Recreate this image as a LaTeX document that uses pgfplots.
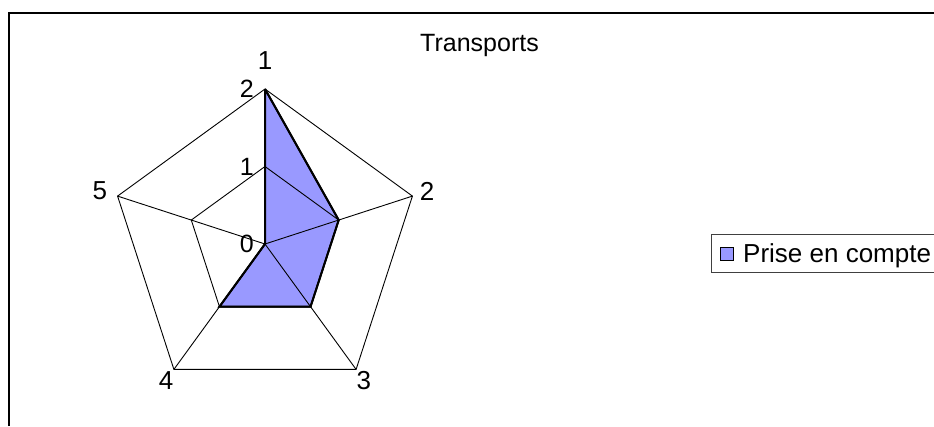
\documentclass[border=0pt]{standalone}
\usepackage{pgfplots}
\pgfplotsset{compat=1.18}
\usepgfplotslibrary{polar}
\usepackage{fontspec}
\setmainfont{Liberation Sans}
\definecolor{pfill}{HTML}{9999FF}
\newcommand{\lab}{\fontsize{26pt}{30pt}\selectfont}
\newcommand{\tck}{\fontsize{25pt}{29pt}\selectfont}
\begin{document}
\begin{tikzpicture}
\path[use as bounding box] (0,0) rectangle (934pt,426pt);
\clip (0,0) rectangle (934pt,426pt);
\fill[white] (0,0) rectangle (934pt,426pt);
\draw[line width=1.2pt] (9pt,0pt) -- (9pt,413pt) -- (934pt,413pt);
\node[anchor=base] at (479.5pt,374.3pt) {\fontsize{25pt}{29pt}\selectfont Transports};
\begin{polaraxis}[
  hide axis,
  scale only axis,
  width=310pt, height=310pt,
  xmin=0, xmax=360, ymin=0, ymax=2,
  clip=false,
  at={(265pt,182pt)}, anchor=center,
  legend style={at={(1.9387,0.4687)}, anchor=west, draw=black!75, line width=0.8pt,
    font=\fontsize{26pt}{30pt}\selectfont, inner xsep=9pt, inner ysep=7pt,
    /tikz/every odd column/.append style={column sep=7pt}},
  legend image code/.code={\draw[#1,line width=0.8pt] (0pt,-6.5pt) rectangle (13pt,6.5pt);},
]
% series fill (with legend)
\addplot[fill=pfill, draw=black, line width=1.8pt] coordinates {
  (90,2) (18,1) (306,1) (234,1) (162,0) (90,2)};
\addlegendentry{Prise en compte}
% grid pentagons
\addplot[black, line width=0.9pt, forget plot] coordinates {
  (90,2) (18,2) (306,2) (234,2) (162,2) (90,2)};
\addplot[black, line width=0.9pt, forget plot] coordinates {
  (90,1) (18,1) (306,1) (234,1) (162,1) (90,1)};
% spokes
\addplot[black, line width=0.9pt, forget plot] coordinates {(90,0) (90,2)};
\addplot[black, line width=0.9pt, forget plot] coordinates {(18,0) (18,2)};
\addplot[black, line width=0.9pt, forget plot] coordinates {(306,0) (306,2)};
\addplot[black, line width=0.9pt, forget plot] coordinates {(234,0) (234,2)};
\addplot[black, line width=0.9pt, forget plot] coordinates {(162,0) (162,2)};
% series outline on top
\addplot[draw=black, line width=2pt, forget plot] coordinates {
  (90,2) (18,1) (306,1) (234,1) (162,0) (90,2)};
% category labels
\node at (axis cs:90,2.37) {\lab 1};
\node at (axis cs:18,2.2) {\lab 2};
\node at (axis cs:306,2.17) {\lab 3};
\node at (axis cs:234,2.17) {\lab 4};
\node at (axis cs:162,2.24) {\lab 5};
% radial tick labels
\node[anchor=east, xshift=-11pt, inner sep=0pt] at (axis cs:90,2) {\tck 2};
\node[anchor=east, xshift=-11pt, inner sep=0pt] at (axis cs:90,1) {\tck 1};
\node[anchor=east, xshift=-11pt, inner sep=0pt] at (axis cs:90,0) {\tck 0};
\end{polaraxis}
\end{tikzpicture}
\end{document}
